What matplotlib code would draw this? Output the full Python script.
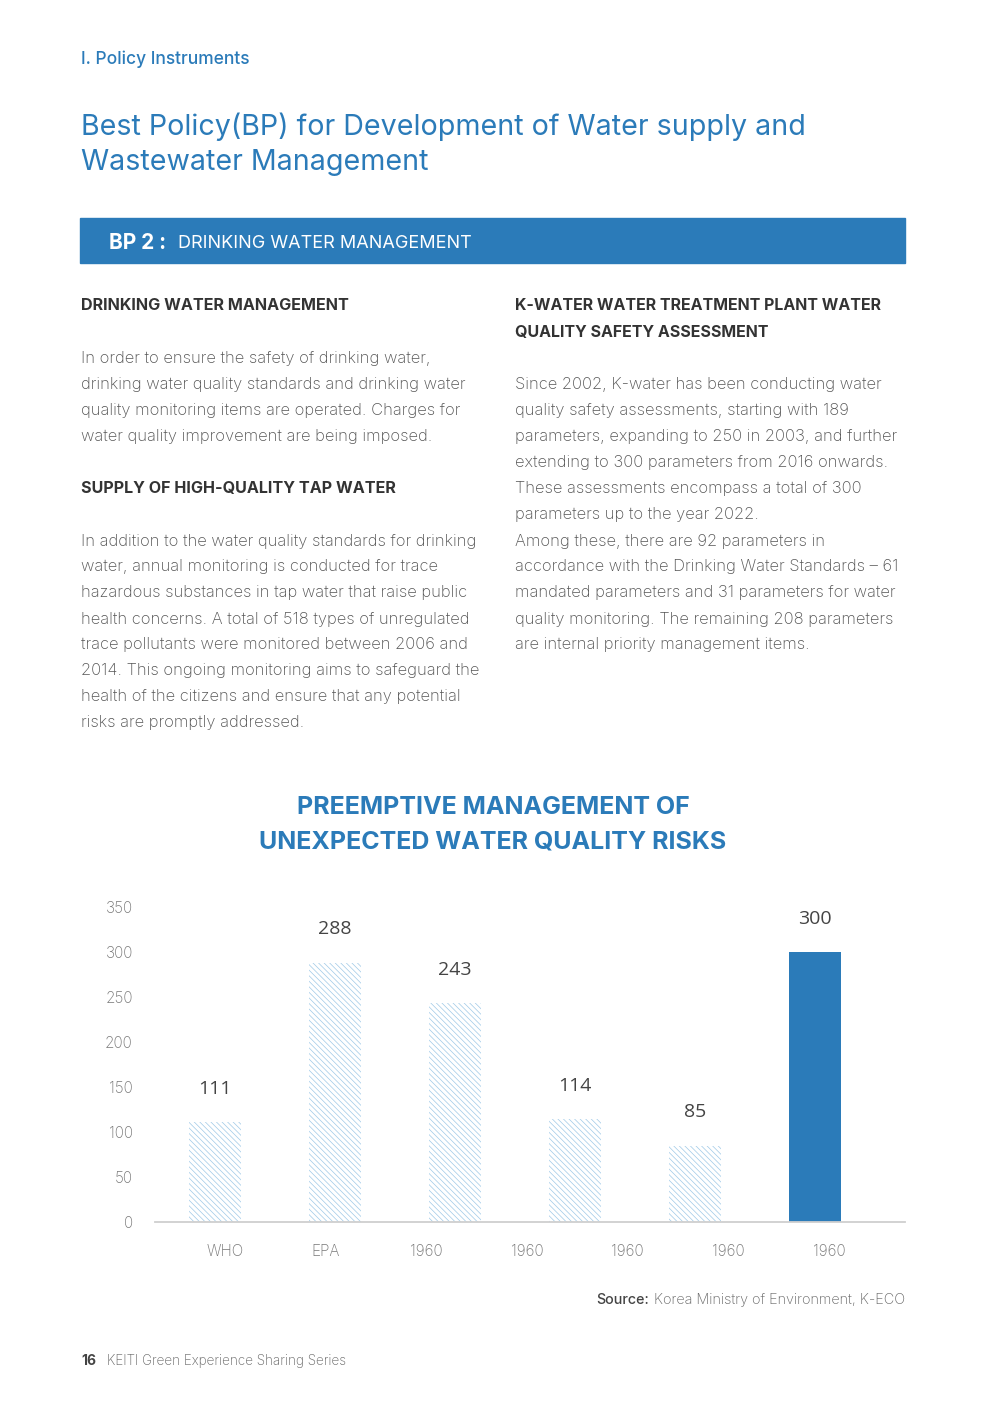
import matplotlib
matplotlib.use("Agg")
import matplotlib.pyplot as plt
from matplotlib.patches import Rectangle

plt.rcParams['font.family'] = ['Inter', 'DejaVu Sans']
plt.rcParams['hatch.linewidth'] = 0.5

# ---- data ----
bar_values = [111, 288, 243, 114, 85, 300]
bar_highlight = [False, False, False, False, False, True]
x_labels = ["WHO", "EPA", "1960", "1960", "1960", "1960", "1960"]
y_ticks = [0, 50, 100, 150, 200, 250, 300, 350]

BLUE = "#2b7bb9"
HATCH = "#9fc9e7"
W, H = 1000, 1414

fig = plt.figure(figsize=(10, 14.14), dpi=100)

def fx(x):
    return x / W

def fy(y):
    return 1 - y / H

def txt(x, y, s, **kw):
    fig.text(fx(x), fy(y + 2), s, va="center", **kw)

# ---- page header ----
txt(81, 57, "I. Policy Instruments", color=BLUE, fontsize=12.5, fontweight="medium")
txt(81, 125, "Best Policy(BP) for Development of Water supply and", color=BLUE, fontsize=20.6)
txt(81, 160, "Wastewater Management", color=BLUE, fontsize=20.6)

fig.patches.append(Rectangle((fx(80), fy(263)), fx(905) - fx(80), (263 - 218) / H,
                             transform=fig.transFigure, color=BLUE, zorder=0))
txt(109, 241, "BP 2 :", color="white", fontsize=15, fontweight="bold")
txt(178, 241, "DRINKING WATER MANAGEMENT", color="white", fontsize=13)

HEAD = "#333333"
BODY = "#555555"
BFS = 11.9
HFS = 11.6

txt(81, 304, "DRINKING WATER MANAGEMENT", color=HEAD, fontsize=HFS, fontweight="bold")
left1 = ["In order to ensure the safety of drinking water,",
         "drinking water quality standards and drinking water",
         "quality monitoring items are operated. Charges for",
         "water quality improvement are being imposed."]
for i, s in enumerate(left1):
    txt(81, 357 + 26 * i, s, color=BODY, fontsize=BFS, fontweight="light")

txt(81, 487, "SUPPLY OF HIGH-QUALITY TAP WATER", color=HEAD, fontsize=HFS, fontweight="bold")
left2 = ["In addition to the water quality standards for drinking",
         "water, annual monitoring is conducted for trace",
         "hazardous substances in tap water that raise public",
         "health concerns. A total of 518 types of unregulated",
         "trace pollutants were monitored between 2006 and",
         "2014. This ongoing monitoring aims to safeguard the",
         "health of the citizens and ensure that any potential",
         "risks are promptly addressed."]
for i, s in enumerate(left2):
    txt(81, 539 + 26 * i, s, color=BODY, fontsize=BFS, fontweight="light")

txt(515, 304, "K-WATER WATER TREATMENT PLANT WATER", color=HEAD, fontsize=11.5, fontweight="bold")
txt(515, 330, "QUALITY SAFETY ASSESSMENT", color=HEAD, fontsize=11.5, fontweight="bold")
right1 = ["Since 2002, K-water has been conducting water",
          "quality safety assessments, starting with 189",
          "parameters, expanding to 250 in 2003, and further",
          "extending to 300 parameters from 2016 onwards.",
          "These assessments encompass a total of 300",
          "parameters up to the year 2022.",
          "Among these, there are 92 parameters in",
          "accordance with the Drinking Water Standards \u2013 61",
          "mandated parameters and 31 parameters for water",
          "quality monitoring. The remaining 208 parameters",
          "are internal priority management items."]
for i, s in enumerate(right1):
    txt(515, 383 + 26 * i, s, color=BODY, fontsize=BFS, fontweight="light")

# ---- chart title ----
fig.text(fx(493), fy(807), "PREEMPTIVE MANAGEMENT OF", color=BLUE, fontsize=18,
         fontweight="bold", ha="center", va="center")
fig.text(fx(493), fy(842), "UNEXPECTED WATER QUALITY RISKS", color=BLUE, fontsize=18,
         fontweight="bold", ha="center", va="center")

# ---- chart ----
ax_l, ax_r, ax_b, ax_t = 155, 905, 1222, 907
ax = fig.add_axes([fx(ax_l), fy(ax_b), (ax_r - ax_l) / W, (ax_b - ax_t) / H])
xs = list(range(len(bar_values)))
for x, v, hl in zip(xs, bar_values, bar_highlight):
    if hl:
        ax.bar(x, v, width=0.44, color=BLUE, edgecolor=BLUE, linewidth=0)
    else:
        ax.bar(x, v, width=0.44, facecolor="white", edgecolor=HATCH,
               hatch="\\\\\\\\\\\\", linewidth=0)
    ax.annotate(str(v), (x, v), xytext=(0, 24), textcoords="offset points",
                ha="center", va="center", fontsize=14, color="#444444",
                fontfamily=["Open Sans", "DejaVu Sans"])
ax.set_xlim(-0.5, 5.75)
ax.set_ylim(0, 350)
ax.set_yticks(y_ticks)
ax.tick_params(axis="y", length=0, pad=16, labelsize=11, labelcolor="#777777")
ax.set_xticks([])
for s in ["top", "right", "left"]:
    ax.spines[s].set_visible(False)
ax.spines["bottom"].set_color("#cfcfcf")
ax.spines["bottom"].set_linewidth(1.3)
for lab in ax.get_yticklabels():
    lab.set_fontweight("light")

ax2 = ax.twiny()
ax2.set_xlim(-0.695, 6.755)
ax2.set_xticks(range(len(x_labels)))
ax2.set_xticklabels(x_labels)
ax2.xaxis.set_ticks_position("bottom")
ax2.xaxis.set_label_position("bottom")
ax2.tick_params(axis="x", length=0, pad=16, labelsize=11, labelcolor="#777777")
for s in ax2.spines.values():
    s.set_visible(False)
for lab in ax2.get_xticklabels():
    lab.set_fontweight("light")

# ---- source & footer ----
fig.text(fx(905), fy(1300), "Korea Ministry of Environment, K-ECO", ha="right", va="center",
         fontsize=10.4, color="#666666", fontweight="light")
fig.text(fx(596), fy(1300), "Source:", ha="left", va="center", fontsize=10.3,
         color="#444444", fontweight="medium")
txt(81, 1359, "16", color="#444444", fontsize=10, fontweight="bold")
txt(107, 1359, "KEITI Green Experience Sharing Series", color="#666666", fontsize=9.7,
    fontweight="light")

fig.savefig("out.png", dpi=100, facecolor="white")
